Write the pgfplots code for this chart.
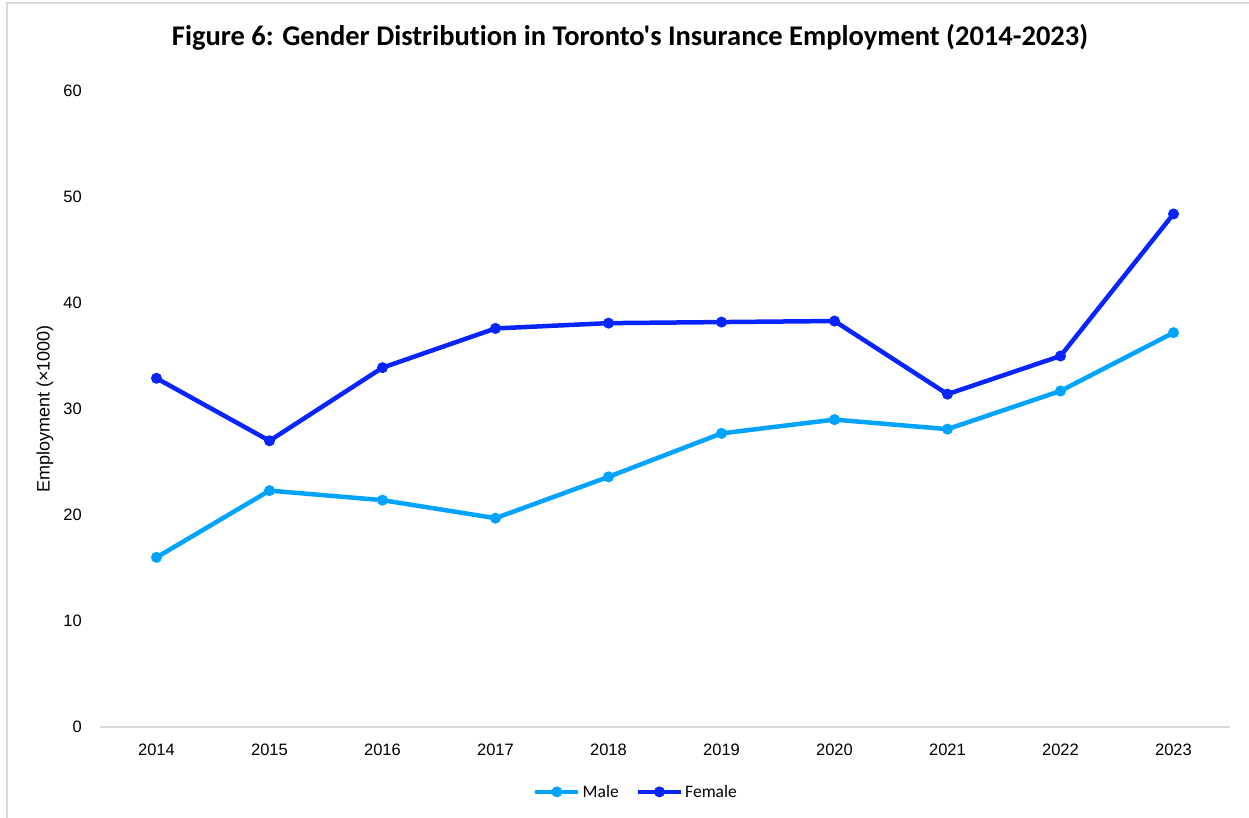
\documentclass[border=0pt]{standalone}
\usepackage{pgfplots}
\pgfplotsset{compat=1.18}
\usepackage{fontspec}
\setmainfont{Liberation Sans}
\newfontfamily\titlefont[Ligatures=NoCommon]{Carlito}
\definecolor{male}{RGB}{0,163,255}
\definecolor{female}{RGB}{8,36,255}
\definecolor{framec}{RGB}{217,217,217}
\begin{document}
\begin{tikzpicture}[x=1pt,y=1pt]
\useasboundingbox (0,0) rectangle (1249,817);
\draw[framec, line width=1.5pt] (7,-10) rectangle (1262,814);
\node[font=\titlefont\bfseries\fontsize{28.5}{33}\selectfont, anchor=center] at (630,780) {Figure 6: Gender Distribution in Toronto's Insurance Employment (2014-2023)};
\begin{axis}[
  at={(100pt,90pt)}, anchor=south west,
  scale only axis, width=1130pt, height=636pt,
  xmin=2013.5, xmax=2023.5, ymin=0, ymax=60,
  axis x line*=bottom, axis y line*=left,
  x axis line style={-, draw=framec, line width=1.5pt},
  y axis line style={draw=none},
  xtick={2014,2015,...,2023}, ytick={0,10,...,60},
  major tick length=0pt,
  /pgf/number format/1000 sep={},
  /pgf/number format/assume math mode=true,
  xticklabel style={font=\fontsize{16.5}{19}\selectfont, anchor=north, inner sep=0pt, yshift=-17pt},
  yticklabel style={font=\fontsize{16.5}{19}\selectfont, anchor=east, inner sep=0pt, xshift=-18pt},
  ylabel={Employment (×1000)},
  ylabel style={font=\fontsize{18}{21}\selectfont, at={(axis description cs:-0.0487,0.5)}, anchor=center},
  legend columns=2,
  legend style={draw=none, at={(0.5,-0.102)}, anchor=center, xshift=-29pt, font=\titlefont\fontsize{17.5}{20}\selectfont,
    /tikz/every even column/.append style={column sep=15pt}, inner sep=0pt},
  legend image code/.code={\draw[mark repeat=2,mark phase=2] plot coordinates {(0pt,0pt)(21.5pt,0pt)(43pt,0pt)};},
  clip=false,
]
\addplot[male, line width=4.5pt, mark=*, mark size=5pt, mark options={fill=male, draw=male, line width=1pt}] coordinates {
 (2014,16.0) (2015,22.3) (2016,21.4) (2017,19.7) (2018,23.6) (2019,27.7) (2020,29.0) (2021,28.1) (2022,31.7) (2023,37.2)};
\addlegendentry{Male}
\addplot[female, line width=4.5pt, mark=*, mark size=5pt, mark options={fill=female, draw=female, line width=1pt}] coordinates {
 (2014,32.9) (2015,27.0) (2016,33.9) (2017,37.6) (2018,38.1) (2019,38.2) (2020,38.3) (2021,31.4) (2022,35.0) (2023,48.4)};
\addlegendentry{Female}
\end{axis}
\end{tikzpicture}
\end{document}
